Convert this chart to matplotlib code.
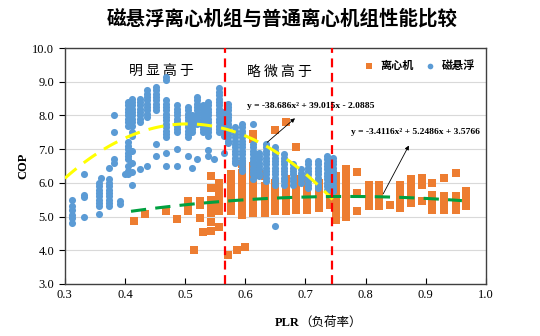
import numpy as np
import matplotlib
matplotlib.use('Agg')
import matplotlib.pyplot as plt

plt.rcParams['font.family'] = ['Liberation Serif', 'Noto Sans CJK SC', 'DejaVu Sans']

# 磁悬浮 (blue circles): x position of each column and the y values in it
maglev_x = [0.312, 0.332, 0.357, 0.360, 0.373, 0.382, 0.392, 0.400, 0.405, 0.412,
            0.425, 0.437, 0.452, 0.468, 0.487, 0.504, 0.512, 0.520, 0.530, 0.538,
            0.548, 0.556, 0.565, 0.572, 0.583, 0.595, 0.612, 0.622, 0.635, 0.650,
            0.665, 0.680, 0.693, 0.705, 0.720, 0.735, 0.745]
maglev_y = [
    [5.5, 5.3, 5.2, 5.05, 4.95, 4.82],
    [6.27, 5.65, 5.58, 4.98],
    [6.0, 5.9, 5.8, 5.7, 5.6, 5.5, 5.4, 5.3, 5.07],
    [6.13],
    [6.43, 6.1, 6.0, 5.9, 5.8, 5.7, 5.6, 5.5, 5.4, 5.3],
    [8.0, 7.5, 6.7, 6.6],
    [5.45, 5.36],
    [6.25],
    [8.4, 8.3, 8.2, 8.1, 8.0, 7.9, 7.8, 7.7, 7.2, 7.1, 7.0, 6.9, 6.8, 6.7, 6.5, 6.35, 6.25],
    [8.5, 8.4, 8.3, 8.2, 8.1, 8.0, 7.9, 7.8, 7.7, 7.5, 7.4, 6.95, 6.6, 6.32, 5.95],
    [8.5, 8.4, 8.3, 8.2, 8.1, 8.0, 7.9, 7.8, 6.4],
    [8.75, 8.65, 8.55, 8.45, 8.35, 8.25, 8.15, 8.05, 7.95, 6.5],
    [8.85, 8.75, 8.65, 8.55, 8.45, 8.35, 8.25, 8.15, 7.15, 6.8],
    [9.15, 9.05, 8.45, 8.35, 8.25, 8.15, 8.05, 7.95, 7.85, 7.75, 7.65, 7.55, 7.45, 7.35, 6.9, 6.5],
    [8.3, 8.2, 8.1, 8.0, 7.9, 7.8, 7.7, 7.6, 7.5, 7.0, 6.5],
    [8.25, 8.15, 8.05, 7.95, 7.85, 7.75, 7.65, 7.55, 7.45, 7.35, 6.8],
    [8.0, 7.9, 7.8, 7.7, 7.6, 7.5, 6.45],
    [8.55, 8.45, 8.35, 8.25, 8.15, 8.05, 7.95, 7.85, 7.75, 6.7],
    [8.3, 8.2, 8.1, 8.0, 7.9, 7.8, 7.7, 7.6, 7.5],
    [8.4, 8.3, 8.2, 8.1, 8.0, 7.9, 7.8, 7.7, 7.6, 7.5, 7.4, 6.97, 6.8],
    [6.7],
    [8.8, 8.7, 8.6, 8.5, 8.4, 8.3, 8.2, 8.1, 8.0, 7.9, 7.8, 7.7, 7.6, 7.5],
    [8.1, 8.0, 7.9, 7.8, 7.7, 7.6, 7.5, 7.4, 6.9],
    [8.35, 8.25, 8.15, 8.05, 7.95, 7.85, 7.75, 7.65, 7.55, 7.45, 7.35, 7.25, 7.17],
    [7.65, 7.55, 7.45, 7.35, 7.25, 7.15, 7.05, 6.95, 6.85, 6.75, 6.65, 6.58],
    [7.75, 7.65, 7.55, 7.45, 7.35, 7.25, 7.15, 7.05, 6.95, 6.85, 6.75, 6.65, 6.55, 6.45, 6.35],
    [7.75, 7.15, 7.05, 6.95, 6.85, 6.75, 6.65, 6.55, 6.45, 6.35, 6.25, 6.1],
    [6.9, 6.8, 6.7, 6.6, 6.5, 6.4, 6.3, 6.2],
    [7.15, 7.05, 6.95, 6.85, 6.75, 6.65, 6.55, 6.45, 6.35, 6.25, 6.15, 6.05],
    [7.05, 6.95, 6.85, 6.75, 6.65, 6.55, 6.45, 6.35, 6.25, 6.15, 6.05, 5.95, 4.72],
    [6.85, 6.75, 6.65, 6.55, 6.45, 6.35, 6.25, 6.15, 6.05, 5.95],
    [6.55, 6.45, 6.35, 6.25, 6.15, 6.05, 5.95],
    [6.4, 6.3, 6.2, 6.1, 6.0],
    [6.65, 6.55, 6.45, 6.35, 6.25, 6.15, 6.05, 5.95, 5.85],
    [6.65, 6.55, 6.45, 6.35, 6.25, 6.15, 6.05, 5.95, 5.85],
    [6.8, 6.7, 6.6, 6.5, 6.4, 6.3, 6.2, 6.1, 6.0, 5.9, 5.8],
    [6.75, 6.65, 6.55, 6.45, 6.35, 6.25, 6.15, 6.05, 5.95, 5.85, 5.75],
]

# 离心机 (orange squares)
centri_x = [0.415, 0.433, 0.468, 0.487, 0.505, 0.515, 0.525, 0.530, 0.543, 0.557,
            0.572, 0.577, 0.587, 0.595, 0.600, 0.613, 0.633, 0.650, 0.667, 0.685,
            0.703, 0.722, 0.740, 0.750, 0.768, 0.786, 0.805, 0.822, 0.840, 0.857,
            0.875, 0.893, 0.910, 0.930, 0.950, 0.967]
centri_y = [
    [4.88],
    [5.08],
    [5.15],
    [4.93],
    [5.45, 5.3, 5.15],
    [4.0],
    [5.45, 5.35, 4.95],
    [4.53],
    [6.2, 5.85, 5.5, 5.4, 5.3, 5.2, 5.1, 4.85, 4.58],
    [6.0, 5.9, 5.8, 5.7, 5.6, 5.5, 5.4, 5.15, 4.7],
    [3.85],
    [6.25, 6.15, 6.05, 5.95, 5.85, 5.75, 5.65, 5.55, 5.45, 5.35, 5.25, 5.15],
    [4.0],
    [6.55, 6.3, 6.2, 6.1, 6.0, 5.9, 5.8, 5.7, 5.6, 5.5, 5.4, 5.3, 5.2, 5.05],
    [4.1],
    [7.45, 7.3, 6.5, 6.4, 6.3, 6.2, 6.1, 6.0, 5.9, 5.8, 5.7, 5.6, 5.5, 5.4, 5.3, 5.2, 5.1],
    [6.25, 6.2, 5.9, 5.8, 5.7, 5.6, 5.5, 5.4, 5.3, 5.2, 5.1],
    [7.56, 6.0, 5.9, 5.8, 5.7, 5.6, 5.5, 5.4, 5.3, 5.2, 5.15],
    [7.8, 6.1, 6.0, 5.9, 5.8, 5.7, 5.6, 5.5, 5.4, 5.3, 5.2, 5.15],
    [7.07, 6.1, 6.0, 5.9, 5.8, 5.7, 5.6, 5.5, 5.4, 5.3, 5.2],
    [6.1, 6.0, 5.9, 5.8, 5.7, 5.6, 5.5, 5.4, 5.3, 5.2],
    [6.0, 5.9, 5.8, 5.7, 5.6, 5.5, 5.4, 5.3, 5.25],
    [6.43, 6.3, 6.2, 6.1, 6.0, 5.9, 5.8, 5.7, 5.6, 5.5, 5.4, 5.35],
    [6.2, 6.1, 6.0, 5.9, 5.8, 5.7, 5.6, 5.5, 5.4, 5.3, 5.2, 5.1, 5.0, 4.9],
    [6.4, 6.3, 6.2, 6.1, 6.0, 5.9, 5.8, 5.7, 5.6, 5.5, 5.4, 5.3, 5.2, 5.1, 5.0],
    [6.33, 5.7, 5.15],
    [5.95, 5.85, 5.75, 5.65, 5.55, 5.45, 5.35, 5.3],
    [5.95, 5.85, 5.75, 5.65, 5.55, 5.45, 5.35, 5.3],
    [5.35],
    [5.95, 5.85, 5.75, 5.65, 5.55, 5.45, 5.35, 5.25],
    [6.1, 6.0, 5.9, 5.8, 5.7, 5.6, 5.5, 5.4],
    [6.15, 6.05, 5.95, 5.45],
    [6.0, 5.65, 5.55, 5.45, 5.35, 5.25, 5.2],
    [6.15, 5.6, 5.5, 5.4, 5.3, 5.2],
    [6.28, 5.6, 5.5, 5.4, 5.3, 5.2],
    [5.75, 5.65, 5.55, 5.45, 5.35, 5.3],
]

# trendline coefficients (a, b, c) and their x ranges
maglev_fit = [-38.686, 39.015, -2.0885]
centri_fit = [-3.4116, 5.2486, 3.5766]
maglev_range = [0.30, 0.745]
centri_range = [0.41, 0.96]
split_lines = [0.567, 0.744]

x_ticks = [0.3, 0.4, 0.5, 0.6, 0.7, 0.8, 0.9, 1.0]
y_ticks = [3.0, 4.0, 5.0, 6.0, 7.0, 8.0, 9.0, 10.0]

blue = '#5B9BD5'
orange = '#ED7D31'
cjk = ['Noto Sans CJK SC', 'DejaVu Sans']


def flatten(xs, ys):
    px, py = [], []
    for x, col in zip(xs, ys):
        for y in col:
            px.append(x)
            py.append(y)
    return px, py


fig = plt.figure(figsize=(5.4, 3.36), dpi=100)
ax = fig.add_axes([0.12, 0.155, 0.78, 0.702])

ax.set_xlim(0.3, 1.0)
ax.set_ylim(3.0, 10.0)
ax.set_yticks(y_ticks)
ax.set_xticks(x_ticks)
ax.set_yticklabels(['%.1f' % v for v in y_ticks], fontsize=9)
ax.set_xticklabels(['%.1f' % v for v in x_ticks], fontsize=9)
ax.tick_params(axis='x', direction='in', length=4)
ax.tick_params(axis='y', direction='out', length=4)
ax.grid(axis='y', color='#D9D9D9', linewidth=0.8)
ax.set_axisbelow(True)
for s in ax.spines.values():
    s.set_color('#404040')
    s.set_linewidth(1.0)

cx, cy = flatten(centri_x, centri_y)
mx, my = flatten(maglev_x, maglev_y)
sc_c = ax.scatter(cx, cy, marker='s', s=34, color=orange, linewidths=0, zorder=3, label='离心机')
sc_m = ax.scatter(mx, my, marker='o', s=26, color=blue, linewidths=0, zorder=4, label='磁悬浮')

xm = np.linspace(maglev_range[0], maglev_range[1], 100)
ax.plot(xm, np.polyval(maglev_fit, xm), color='#FFFF00', lw=2.2, dashes=(5, 3), zorder=5)
xc = np.linspace(centri_range[0], centri_range[1], 100)
ax.plot(xc, np.polyval(centri_fit, xc), color='#00A040', lw=2.2, dashes=(5, 3), zorder=5)

for xv in split_lines:
    ax.axvline(xv, color='#FF0000', lw=1.6, dashes=(4, 2.5), zorder=6, clip_on=False)

ax.text(0.46, 9.3, '明 显 高 于', family=cjk, fontsize=10, ha='center', va='center')
ax.text(0.656, 9.3, '略 微 高 于', family=cjk, fontsize=10, ha='center', va='center')

ax.text(0.603, 8.28, 'y = -38.686x² + 39.015x - 2.0885', fontsize=6.8, fontweight='bold',
        ha='left', va='center', zorder=7)
ax.annotate('', xy=(0.686, 7.97), xytext=(0.633, 7.15),
            arrowprops=dict(arrowstyle='-|>', color='black', lw=0.6, mutation_scale=6), zorder=7)
ax.text(0.775, 7.5, 'y = -3.4116x² + 5.2486x + 3.5766', fontsize=6.8, fontweight='bold',
        ha='left', va='center', zorder=7)
ax.annotate('', xy=(0.874, 7.18), xytext=(0.827, 5.6),
            arrowprops=dict(arrowstyle='-|>', color='black', lw=0.6, mutation_scale=6), zorder=7)

ax.legend(handles=[sc_c, sc_m], loc='upper right', ncol=2, frameon=False,
          prop={'family': cjk, 'weight': 'bold', 'size': 8},
          handletextpad=0.0, columnspacing=0.5, borderaxespad=0.6, markerscale=0.8)

ax.set_ylabel('COP', fontsize=9, fontweight='bold', labelpad=2)
fig.text(0.555, 0.04, 'PLR', fontsize=9, fontweight='bold', ha='right', va='center')
fig.text(0.555, 0.04, '（负荷率）', family=cjk, fontsize=9, ha='left', va='center')

fig.text(0.523, 0.945, '磁悬浮离心机组与普通离心机组性能比较', family=cjk, fontsize=14,
         fontweight='bold', ha='center', va='center')

fig.savefig('out.png', dpi=100)
